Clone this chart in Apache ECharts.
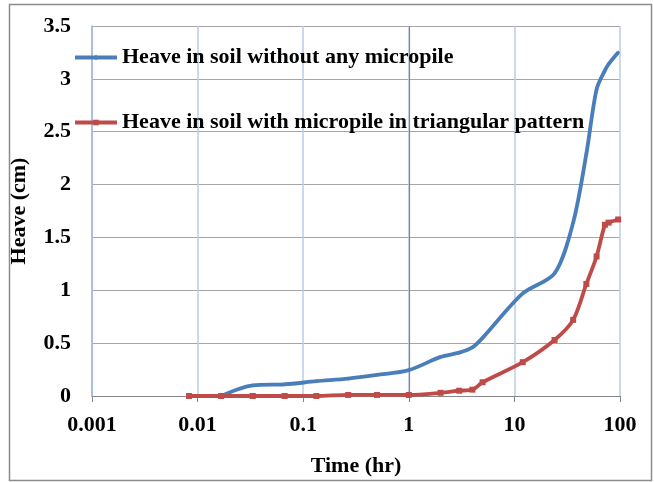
<!DOCTYPE html>
<html>
<head>
<meta charset="utf-8">
<script src="https://cdn.jsdelivr.net/npm/echarts@6/dist/echarts.min.js"></script>
<style>
html,body{margin:0;padding:0;background:#fff;}
#chart{width:654px;height:482px;}
</style>
</head>
<body>
<div id="chart"></div>
<script>
// Data
var timeHr = [0.0083, 0.0167, 0.0333, 0.0667, 0.1333, 0.2667, 0.5, 1, 2, 3, 4, 5, 12, 24, 36, 48, 60, 72, 78, 96];
var heaveNoPile = [null, 0, 0.10, 0.11, 0.14, 0.165, 0.20, 0.245, 0.37, 0.41, 0.46, 0.55, 0.97, 1.16, 1.64, 2.29, 2.90, 3.08, 3.14, 3.25];
var heaveTriPile = [0, 0, 0, 0, 0, 0.01, 0.01, 0.01, 0.03, 0.05, 0.06, 0.13, 0.32, 0.53, 0.72, 1.06, 1.32, 1.62, 1.64, 1.67];
var seriesNames = ['Heave in soil without any micropile', 'Heave in soil with micropile in triangular pattern'];
var xTickLabels = ['0.001', '0.01', '0.1', '1', '10', '100'];
var xAxisTitle = 'Time (hr)';
var yAxisTitle = 'Heave (cm)';

function pairs(ys) {
  var out = [];
  for (var i = 0; i < timeHr.length; i++) {
    if (ys[i] !== null) out.push([timeHr[i], ys[i]]);
  }
  return out;
}

var FONT = 'Liberation Serif';
var chart = echarts.init(document.getElementById('chart'), null, {renderer: 'canvas'});
chart.setOption({
  animation: false,
  backgroundColor: '#fff',
  graphic: [{
    type: 'rect',
    shape: {x: 9.5, y: 4.5, width: 642, height: 476},
    style: {fill: 'none', stroke: '#8c8c8c', lineWidth: 1.5},
    silent: true, z: -1
  }],
  grid: {left: 89.6, right: 34, top: 26, bottom: 77.7, containLabel: false},
  legend: {
    orient: 'vertical',
    left: 73,
    top: 46.5,
    padding: 0,
    itemWidth: 42,
    itemHeight: 7,
    itemGap: 43,
    lineStyle: {width: 4},
    textStyle: {fontFamily: FONT, fontWeight: 'bold', fontSize: 22, color: '#000', lineHeight: 22},
    data: seriesNames
  },
  xAxis: {
    type: 'log',
    logBase: 10,
    min: 0.001,
    max: 100,
    name: xAxisTitle,
    nameLocation: 'middle',
    nameGap: 59,
    nameTextStyle: {fontFamily: FONT, fontWeight: 'bold', fontSize: 22, color: '#000'},
    axisLine: {show: true, lineStyle: {color: '#868686', width: 1}},
    axisTick: {show: true, length: 6, lineStyle: {color: '#868686'}},
    axisLabel: {
      fontFamily: FONT, fontWeight: 'bold', fontSize: 22, color: '#000', margin: 18,
      formatter: function (v) {
        var k = Math.round(Math.log10(v)) + 3;
        return xTickLabels[k] !== undefined ? xTickLabels[k] : '';
      }
    },
    splitLine: {show: true, lineStyle: {color: '#b9cde5', width: 1.5}},
    minorTick: {show: false},
    minorSplitLine: {show: false}
  },
  yAxis: {
    type: 'value',
    min: 0,
    max: 3.5,
    interval: 0.5,
    name: yAxisTitle,
    nameLocation: 'middle',
    nameGap: 62,
    nameRotate: 90,
    nameTextStyle: {fontFamily: FONT, fontWeight: 'bold', fontSize: 22, color: '#000'},
    axisLine: {show: true, lineStyle: {color: '#9bb7de', width: 1.5}},
    axisTick: {show: false},
    axisLabel: {fontFamily: FONT, fontWeight: 'bold', fontSize: 22, color: '#000', margin: 21},
    splitLine: {show: true, lineStyle: {color: '#a6a6a6', width: 1.2}}
  },
  series: [
    {
      name: seriesNames[0],
      type: 'line',
      data: pairs(heaveNoPile),
      smooth: 0.3,
      symbol: 'diamond',
      symbolSize: 4,
      showSymbol: true,
      color: '#4a7ebb',
      lineStyle: {width: 3.8, color: '#4a7ebb'},
      itemStyle: {color: '#4a7ebb'},
      z: 3,
      markLine: {
        silent: true,
        symbol: 'none',
        label: {show: false},
        lineStyle: {color: '#868686', width: 1.2, type: 'solid'},
        data: [{xAxis: 1}],
        z: 1
      }
    },
    {
      name: seriesNames[1],
      type: 'line',
      data: pairs(heaveTriPile),
      smooth: 0.3,
      symbol: 'rect',
      symbolSize: 6,
      showSymbol: true,
      color: '#be4b48',
      lineStyle: {width: 3.8, color: '#be4b48'},
      itemStyle: {color: '#be4b48'},
      z: 4
    }
  ]
});
</script>
</body>
</html>
